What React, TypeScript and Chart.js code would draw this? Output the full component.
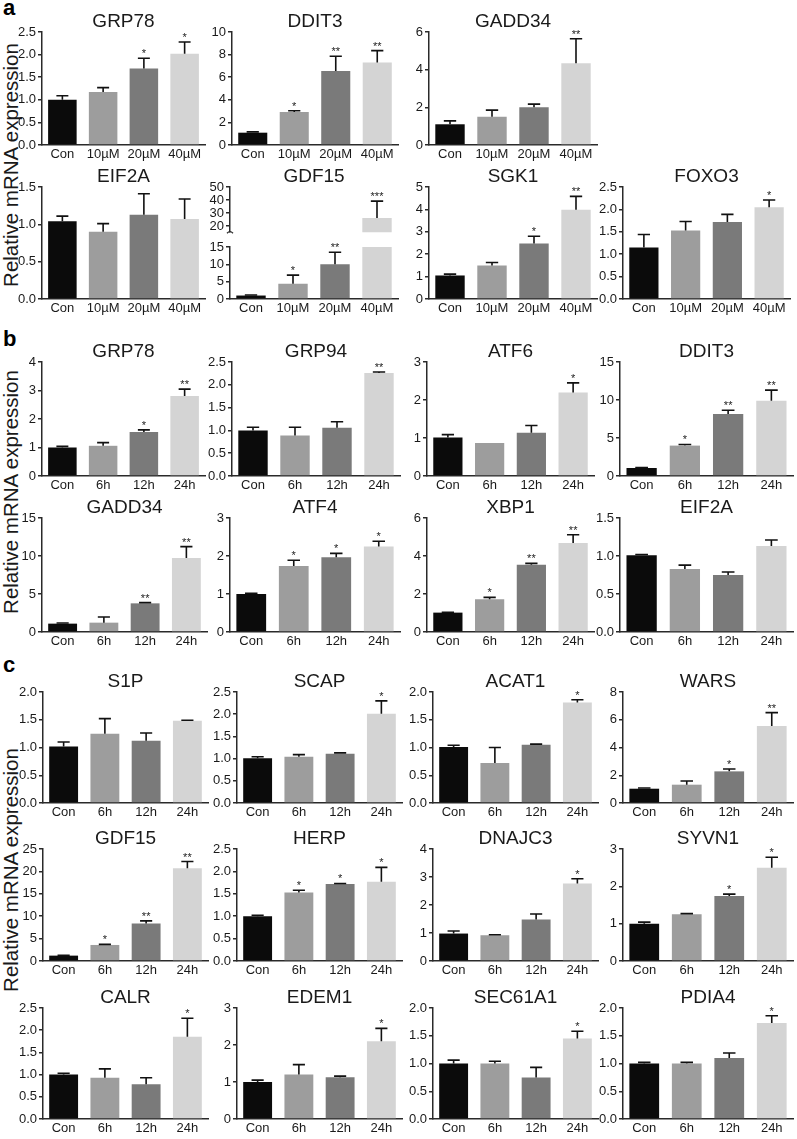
import React, { useEffect, useRef } from 'react';
import { Chart, registerables } from 'chart.js';

Chart.register(...registerables);

// ---------- categories / colours ----------
const concLabels = ['Con', '10µM', '20µM', '40µM'];
const timeLabels = ['Con', '6h', '12h', '24h'];
const barColors = ['#0b0b0b', '#9d9d9d', '#7a7a7a', '#d4d4d4'];

// ---------- section a ----------
const aGRP78 = [1.0, 1.17, 1.69, 2.02];
const aGRP78Err = [0.09, 0.1, 0.23, 0.26];
const aGRP78Sig = ['', '', '*', '*'];
const aDDIT3 = [1.09, 2.93, 6.55, 7.3];
const aDDIT3Err = [0.07, 0.1, 1.3, 1.05];
const aDDIT3Sig = ['', '*', '**', '**'];
const aGADD34 = [1.1, 1.5, 2.0, 4.34];
const aGADD34Err = [0.18, 0.35, 0.17, 1.3];
const aGADD34Sig = ['', '', '', '**'];
const aEIF2A = [1.04, 0.9, 1.13, 1.07];
const aEIF2AErr = [0.07, 0.11, 0.28, 0.27];
const aEIF2ASig = ['', '', '', ''];
const aGDF15 = [1.0, 4.4, 10.0, 26.1];
const aGDF15Err = [0.15, 2.5, 3.5, 13];
const aGDF15Sig = ['', '*', '**', '***'];
const aGDF15UpperTicks = [20, 30, 40, 50];
const aSGK1 = [1.05, 1.5, 2.48, 3.98];
const aSGK1Err = [0.06, 0.13, 0.32, 0.6];
const aSGK1Sig = ['', '', '*', '**'];
const aFOXO3 = [1.15, 1.53, 1.72, 2.05];
const aFOXO3Err = [0.29, 0.2, 0.17, 0.16];
const aFOXO3Sig = ['', '', '', '*'];

// ---------- section b ----------
const bGRP78 = [1.0, 1.06, 1.54, 2.81];
const bGRP78Err = [0.04, 0.11, 0.08, 0.24];
const bGRP78Sig = ['', '', '*', '**'];
const bGRP94 = [1.0, 0.89, 1.06, 2.26];
const bGRP94Err = [0.07, 0.18, 0.13, 0.02];
const bGRP94Sig = ['', '', '', '**'];
const bATF6 = [1.01, 0.87, 1.14, 2.2];
const bATF6Err = [0.08, 0, 0.19, 0.25];
const bATF6Sig = ['', '', '', '*'];
const bDDIT3 = [1.05, 4.0, 8.15, 9.9];
const bDDIT3Err = [0.05, 0.15, 0.5, 1.4];
const bDDIT3Sig = ['', '*', '**', '**'];
const bGADD34 = [1.1, 1.23, 3.77, 9.74];
const bGADD34Err = [0.08, 0.74, 0.09, 1.5];
const bGADD34Sig = ['', '', '**', '**'];
const bATF4 = [1.0, 1.74, 1.97, 2.25];
const bATF4Err = [0.02, 0.15, 0.1, 0.14];
const bATF4Sig = ['', '*', '*', '*'];
const bXBP1 = [1.02, 1.72, 3.54, 4.68];
const bXBP1Err = [0.02, 0.1, 0.07, 0.44];
const bXBP1Sig = ['', '*', '**', '**'];
const bEIF2A = [1.01, 0.83, 0.75, 1.13];
const bEIF2AErr = [0.01, 0.05, 0.04, 0.08];
const bEIF2ASig = ['', '', '', ''];

// ---------- section c ----------
const cS1P = [1.02, 1.25, 1.12, 1.48];
const cS1PErr = [0.08, 0.27, 0.14, 0.01];
const cS1PSig = ['', '', '', ''];
const cSCAP = [1.01, 1.04, 1.11, 2.01];
const cSCAPErr = [0.03, 0.05, 0.02, 0.29];
const cSCAPSig = ['', '', '', '*'];
const cACAT1 = [1.01, 0.72, 1.05, 1.81];
const cACAT1Err = [0.03, 0.28, 0.01, 0.05];
const cACAT1Sig = ['', '', '', '*'];
const cWARS = [1.03, 1.32, 2.28, 5.55];
const cWARSErr = [0.05, 0.27, 0.17, 0.96];
const cWARSSig = ['', '', '*', '**'];
const cGDF15 = [1.2, 3.58, 8.36, 20.7];
const cGDF15Err = [0.05, 0.12, 0.6, 1.5];
const cGDF15Sig = ['', '*', '**', '**'];
const cHERP = [1.0, 1.53, 1.72, 1.77];
const cHERPErr = [0.02, 0.05, 0.01, 0.32];
const cHERPSig = ['', '*', '*', '*'];
const cDNAJC3 = [0.98, 0.92, 1.48, 2.77];
const cDNAJC3Err = [0.09, 0.02, 0.2, 0.17];
const cDNAJC3Sig = ['', '', '', '*'];
const cSYVN1 = [1.0, 1.25, 1.74, 2.5];
const cSYVN1Err = [0.04, 0.02, 0.05, 0.28];
const cSYVN1Sig = ['', '', '*', '*'];
const cCALR = [1.0, 0.93, 0.78, 1.85];
const cCALRErr = [0.03, 0.2, 0.15, 0.42];
const cCALRSig = ['', '', '', '*'];
const cEDEM1 = [1.0, 1.2, 1.13, 2.1];
const cEDEM1Err = [0.05, 0.27, 0.03, 0.35];
const cEDEM1Sig = ['', '', '', '*'];
const cSEC61A1 = [1.0, 1.0, 0.75, 1.45];
const cSEC61A1Err = [0.06, 0.04, 0.18, 0.13];
const cSEC61A1Sig = ['', '', '', '*'];
const cPDIA4 = [1.0, 1.0, 1.1, 1.73];
const cPDIA4Err = [0.02, 0.02, 0.09, 0.13];
const cPDIA4Sig = ['', '', '', '*'];

// ---------- style / layout ----------
const FONT = '"Liberation Sans", Arial, Helvetica, sans-serif';
const AX = '#2a2a2a';
const TXT = '#1a1a1a';
const PADL = 34;
const PADT = 30;
const PADR = 6;
const PADB = 20;

type PanelDef = {
  title: string;
  labels: string[];
  mean: number[];
  err: number[];
  sig: string[];
  min: number;
  max: number;
  step?: number;
  tickValues?: number[];
  dec: number;
  x0: number;
  x1: number;
  top: number;
  bottom: number;
  showX?: boolean;
  showTitle?: boolean;
  padB?: number;
  breakMark?: boolean;
};

function mk(
  title: string, labels: string[], mean: number[], err: number[], sig: string[],
  max: number, step: number, dec: number, x0: number, x1: number, top: number, bottom: number
): PanelDef {
  return { title, labels, mean, err, sig, min: 0, max, step, dec, x0, x1, top, bottom, showX: true, showTitle: true };
}

// rows
const A1 = [32, 145];
const A2 = [187, 299];
const B1 = [362, 476];
const B2 = [518, 632];
const C1 = [692, 803];
const C2 = [849, 961];
const C3 = [1008, 1119];

const panels: PanelDef[] = [
  mk('GRP78', concLabels, aGRP78, aGRP78Err, aGRP78Sig, 2.5, 0.5, 1, 42, 205, A1[0], A1[1]),
  mk('DDIT3', concLabels, aDDIT3, aDDIT3Err, aDDIT3Sig, 10, 2, 0, 232, 398, A1[0], A1[1]),
  mk('GADD34', concLabels, aGADD34, aGADD34Err, aGADD34Sig, 6, 2, 0, 429, 597, A1[0], A1[1]),
  mk('EIF2A', concLabels, aEIF2A, aEIF2AErr, aEIF2ASig, 1.5, 0.5, 1, 42, 205, A2[0], A2[1]),
  // GDF15 broken axis: upper and lower segments
  {
    title: 'GDF15', labels: concLabels, mean: aGDF15, err: aGDF15Err, sig: aGDF15Sig,
    min: 15.2, max: 50, tickValues: aGDF15UpperTicks, dec: 0, x0: 230, x1: 398, top: 187, bottom: 238,
    showX: false, showTitle: true, padB: 4, breakMark: true,
  },
  {
    title: '', labels: concLabels, mean: aGDF15, err: aGDF15Err, sig: aGDF15Sig,
    min: 0, max: 15, step: 5, dec: 0, x0: 230, x1: 398, top: 247, bottom: 299,
    showX: true, showTitle: false,
  },
  mk('SGK1', concLabels, aSGK1, aSGK1Err, aSGK1Sig, 5, 1, 0, 429, 597, A2[0], A2[1]),
  mk('FOXO3', concLabels, aFOXO3, aFOXO3Err, aFOXO3Sig, 2.5, 0.5, 1, 623, 790, A2[0], A2[1]),

  mk('GRP78', timeLabels, bGRP78, bGRP78Err, bGRP78Sig, 4, 1, 0, 42, 205, B1[0], B1[1]),
  mk('GRP94', timeLabels, bGRP94, bGRP94Err, bGRP94Sig, 2.5, 0.5, 1, 232, 400, B1[0], B1[1]),
  mk('ATF6', timeLabels, bATF6, bATF6Err, bATF6Sig, 3, 1, 0, 427, 594, B1[0], B1[1]),
  mk('DDIT3', timeLabels, bDDIT3, bDDIT3Err, bDDIT3Sig, 15, 5, 0, 620, 793, B1[0], B1[1]),
  mk('GADD34', timeLabels, bGADD34, bGADD34Err, bGADD34Sig, 15, 5, 0, 42, 207, B2[0], B2[1]),
  mk('ATF4', timeLabels, bATF4, bATF4Err, bATF4Sig, 3, 1, 0, 230, 400, B2[0], B2[1]),
  mk('XBP1', timeLabels, bXBP1, bXBP1Err, bXBP1Sig, 6, 2, 0, 427, 594, B2[0], B2[1]),
  mk('EIF2A', timeLabels, bEIF2A, bEIF2AErr, bEIF2ASig, 1.5, 0.5, 1, 620, 793, B2[0], B2[1]),

  mk('S1P', timeLabels, cS1P, cS1PErr, cS1PSig, 2, 0.5, 1, 43, 208, C1[0], C1[1]),
  mk('SCAP', timeLabels, cSCAP, cSCAPErr, cSCAPSig, 2.5, 0.5, 1, 237, 402, C1[0], C1[1]),
  mk('ACAT1', timeLabels, cACAT1, cACAT1Err, cACAT1Sig, 2, 0.5, 1, 433, 598, C1[0], C1[1]),
  mk('WARS', timeLabels, cWARS, cWARSErr, cWARSSig, 8, 2, 0, 623, 793, C1[0], C1[1]),
  mk('GDF15', timeLabels, cGDF15, cGDF15Err, cGDF15Sig, 25, 5, 0, 43, 208, C2[0], C2[1]),
  mk('HERP', timeLabels, cHERP, cHERPErr, cHERPSig, 2.5, 0.5, 1, 237, 402, C2[0], C2[1]),
  mk('DNAJC3', timeLabels, cDNAJC3, cDNAJC3Err, cDNAJC3Sig, 4, 1, 0, 433, 598, C2[0], C2[1]),
  mk('SYVN1', timeLabels, cSYVN1, cSYVN1Err, cSYVN1Sig, 3, 1, 0, 623, 793, C2[0], C2[1]),
  mk('CALR', timeLabels, cCALR, cCALRErr, cCALRSig, 2.5, 0.5, 1, 43, 208, C3[0], C3[1]),
  mk('EDEM1', timeLabels, cEDEM1, cEDEM1Err, cEDEM1Sig, 3, 1, 0, 237, 402, C3[0], C3[1]),
  mk('SEC61A1', timeLabels, cSEC61A1, cSEC61A1Err, cSEC61A1Sig, 2, 0.5, 1, 433, 598, C3[0], C3[1]),
  mk('PDIA4', timeLabels, cPDIA4, cPDIA4Err, cPDIA4Sig, 2, 0.5, 1, 623, 793, C3[0], C3[1]),
];

function BarPanel({ p }: { p: PanelDef }) {
  const ref = useRef<HTMLCanvasElement | null>(null);
  const padB = p.showX ? PADB : (p.padB ?? 4);
  const w = p.x1 - p.x0 + PADL + PADR;
  const h = p.bottom - p.top + PADT + padB;

  useEffect(() => {
    if (!ref.current) return;
    const decor = {
      id: 'decor',
      afterDatasetsDraw(chart: any) {
        const ctx = chart.ctx;
        const ys = chart.scales.y;
        const meta = chart.getDatasetMeta(0);
        const ca = chart.chartArea;
        ctx.save();
        ctx.strokeStyle = '#111';
        ctx.fillStyle = '#111';
        ctx.lineWidth = 1.6;
        meta.data.forEach((bar: any, i: number) => {
          const m = p.mean[i];
          const e = p.err[i];
          if (m > p.max || m < p.min) return;
          const yM = ys.getPixelForValue(m);
          const yT = ys.getPixelForValue(m + e);
          const half = bar.width * 0.21;
          if (e > 0) {
            ctx.beginPath();
            ctx.moveTo(bar.x, yM);
            ctx.lineTo(bar.x, yT);
            ctx.moveTo(bar.x - half, yT);
            ctx.lineTo(bar.x + half, yT);
            ctx.stroke();
          }
          if (p.sig[i]) {
            ctx.font = `11px ${FONT}`;
            ctx.textAlign = 'center';
            ctx.textBaseline = 'alphabetic';
            ctx.fillStyle = '#222';
            ctx.fillText(p.sig[i], bar.x, yT - 1);
          }
        });
        if (p.breakMark) {
          ctx.strokeStyle = AX;
          ctx.lineWidth = 1.3;
          ctx.beginPath();
          ctx.moveTo(ca.left - 3, ca.bottom + 1);
          ctx.quadraticCurveTo(ca.left, ca.bottom - 2, ca.left + 3, ca.bottom + 1);
          ctx.stroke();
        }
        if (p.showTitle && p.title) {
          ctx.font = `19px ${FONT}`;
          ctx.textAlign = 'center';
          ctx.textBaseline = 'alphabetic';
          ctx.fillStyle = TXT;
          ctx.fillText(p.title, (ca.left + ca.right) / 2, ca.top - 5);
        }
        ctx.restore();
      },
    };

    const yTicks: any = {
      color: TXT,
      font: { family: FONT, size: 13 },
      padding: 2,
      autoSkip: false,
      callback: (v: any) => Number(v).toFixed(p.dec),
    };
    if (p.step) yTicks.stepSize = p.step;

    const chart = new Chart(ref.current, {
      type: 'bar',
      data: {
        labels: p.labels,
        datasets: [
          {
            data: p.mean,
            backgroundColor: barColors,
            borderWidth: 0,
            barPercentage: 0.7,
            categoryPercentage: 1,
          },
        ],
      },
      options: {
        responsive: false,
        animation: false,
        devicePixelRatio: 1,
        layout: { padding: { top: PADT, right: PADR, left: 0, bottom: p.showX ? 0 : padB } },
        plugins: {
          legend: { display: false },
          tooltip: { enabled: false },
          title: { display: false },
        },
        scales: {
          x: {
            display: p.showX !== false,
            grid: { display: false, drawTicks: false, tickLength: 0 },
            border: { display: true, color: AX, width: 1.5 },
            ticks: {
              color: TXT,
              font: { family: FONT, size: 13 },
              padding: 2,
              maxRotation: 0,
              autoSkip: false,
            },
            afterFit: (s: any) => {
              if (p.showX) s.height = PADB;
            },
          },
          y: {
            min: p.min,
            max: p.max,
            ticks: yTicks,
            grid: { display: true, drawOnChartArea: false, drawTicks: true, tickLength: 4, color: AX, lineWidth: 1.5 },
            border: { display: true, color: AX, width: 1.5 },
            afterBuildTicks: p.tickValues
              ? (s: any) => {
                  s.ticks = p.tickValues!.map((v) => ({ value: v }));
                }
              : undefined,
            afterFit: (s: any) => {
              s.width = PADL;
            },
          },
        },
      } as any,
      plugins: [decor],
    });
    return () => chart.destroy();
  }, []);

  return (
    <canvas
      ref={ref}
      width={w}
      height={h}
      style={{ position: 'absolute', left: p.x0 - PADL, top: p.top - PADT, width: w, height: h }}
    />
  );
}

function YLabel({ cx, cy }: { cx: number; cy: number }) {
  return (
    <div
      style={{
        position: 'absolute',
        left: cx - 150,
        top: cy - 12,
        width: 300,
        height: 24,
        lineHeight: '24px',
        textAlign: 'center',
        fontFamily: FONT,
        fontSize: 20.5,
        color: TXT,
        transform: 'rotate(-90deg)',
        whiteSpace: 'nowrap',
      }}
    >
      Relative mRNA expression
    </div>
  );
}

function Letter({ x, y, t }: { x: number; y: number; t: string }) {
  return (
    <div
      style={{
        position: 'absolute',
        left: x,
        top: y,
        fontFamily: FONT,
        fontWeight: 'bold',
        fontSize: 22,
        lineHeight: '22px',
        color: '#000',
      }}
    >
      {t}
    </div>
  );
}

export default function App() {
  return (
    <div
      style={{
        position: 'absolute',
        left: 0,
        top: 0,
        width: 797,
        height: 1139,
        background: '#fff',
        overflow: 'hidden',
      }}
    >
      <Letter x={3} y={-3} t="a" />
      <Letter x={3} y={328} t="b" />
      <Letter x={3} y={654} t="c" />
      <YLabel cx={11} cy={165} />
      <YLabel cx={11} cy={492} />
      <YLabel cx={11} cy={870} />
      {panels.map((p, i) => (
        <BarPanel key={i} p={p} />
      ))}
    </div>
  );
}
